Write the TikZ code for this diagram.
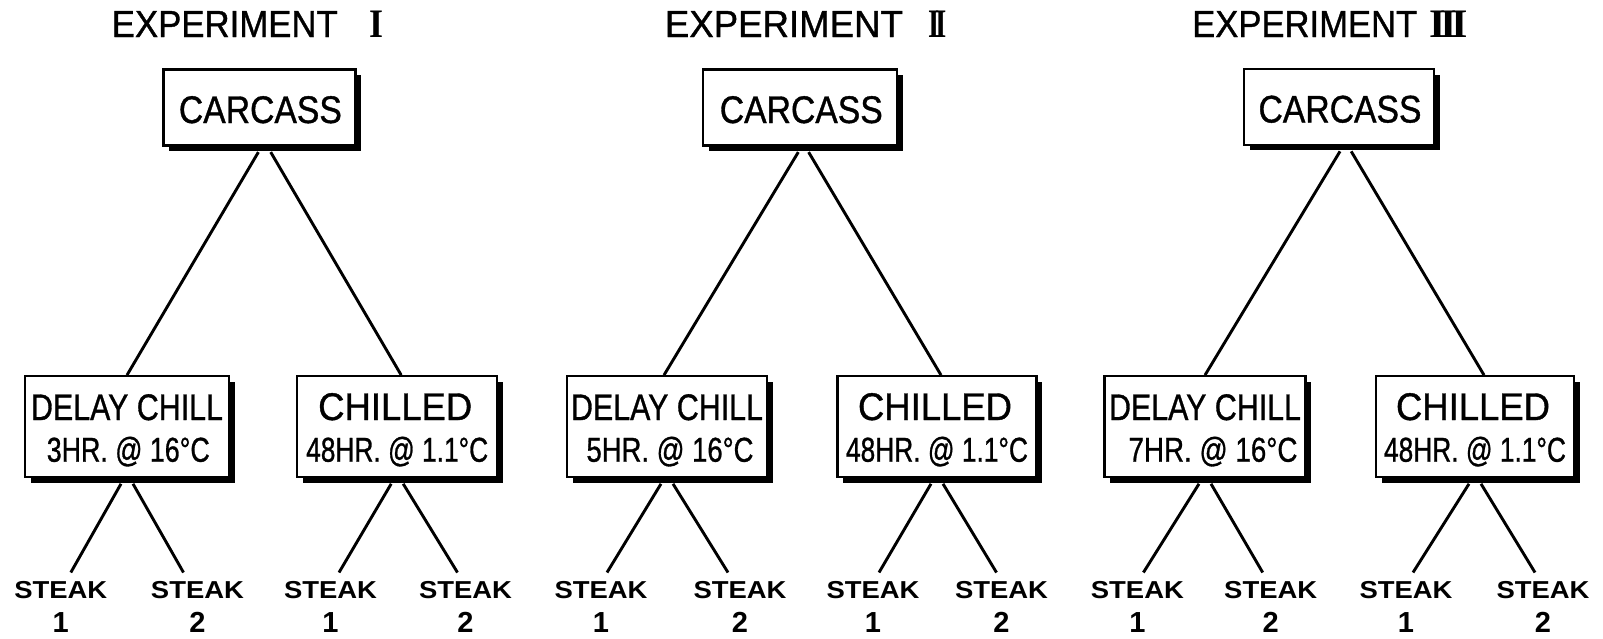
\documentclass[tikz,border=0pt]{standalone}
\usepackage{graphicx}
\usepackage{fontspec}
\setmainfont{Liberation Sans}
\newfontfamily\letterfont{Liberation Sans}[FakeBold=1]
\newfontfamily\romanfont{Liberation Serif}
\usetikzlibrary{shadows}

% set a text to a given width, keeping its height
\newcommand\fitw[2]{\resizebox{#1}{\height}{#2}}
% a roman numeral whose serifs run together
\newcommand\numeral[3]{\resizebox{#1}{#2}{\romanfont\bfseries #3}}

\tikzset{
  box/.style={draw, line width=2.2pt, fill=white, inner sep=0pt,
    drop shadow={shadow xshift=5.5pt, shadow yshift=-5.5pt, fill=black, opacity=1}},
  txt/.style={inner sep=0pt, anchor=base},
  head/.style={txt, font={\letterfont\fontsize{37.7}{40}\selectfont}},
  big/.style={txt, font={\letterfont\fontsize{38.5}{40}\selectfont}},
  mid/.style={txt, font={\letterfont\fontsize{37}{40}\selectfont}},
  cond/.style={txt, font={\letterfont\fontsize{34.5}{38}\selectfont}},
  steak/.style={txt, font={\bfseries\fontsize{24.5}{30}\selectfont}},
  num/.style={txt, font={\bfseries\fontsize{29}{30}\selectfont}},
  link/.style={line width=2.9pt},
}

\begin{document}
\begin{tikzpicture}[x=1pt, y=-1pt]
\useasboundingbox (0,0) rectangle (1603,638);

% ---------- titles ----------
\node[head] (t1)  at (224.8,37)  {\fitw{226pt}{EXPERIMENT}};
\node[txt]  (t1n) at (376.3,37)  {\numeral{14pt}{26.5pt}{I}};
\node[head] (t2)  at (783.9,37)  {\fitw{238pt}{EXPERIMENT}};
\node[txt]  (t2n) at (937.5,37)  {\numeral{19pt}{26.5pt}{I\kern-0.12em I}};
\node[head] (t3)  at (1304.7,37) {\fitw{225pt}{EXPERIMENT}};
\node[txt]  (t3n) at (1448.5,37) {\numeral{39pt}{26.5pt}{I\kern-0.12em I\kern-0.12em I}};

% ---------- carcass boxes ----------
\node[box, minimum width=192pt, minimum height=76pt] (c1) at (259.4,107.5) {};
\node[box, minimum width=194pt, minimum height=76pt] (c2) at (800.3,107.5) {};
\node[box, minimum width=190pt, minimum height=75.5pt] (c3) at (1339,107) {};
\foreach \c in {c1,c2,c3}
  \node[big] (\c t) at ([xshift=1pt,yshift=-15.5pt]\c.center) {\fitw{163pt}{CARCASS}};

% ---------- treatment boxes ----------
\node[box, minimum width=204pt, minimum height=101pt] (d1) at (127,426.7)   {};
\node[box, minimum width=200pt, minimum height=101pt] (h1) at (397.2,426.7) {};
\node[box, minimum width=200pt, minimum height=101pt] (d2) at (667,426.7)   {};
\node[box, minimum width=199pt, minimum height=101pt] (h2) at (937,426.7)   {};
\node[box, minimum width=201pt, minimum height=101pt] (d3) at (1205,426.7)  {};
\node[box, minimum width=198pt, minimum height=101pt] (h3) at (1475,426.7)  {};

\foreach \d in {d1,d2,d3}
  \node[mid] (\d a) at ([yshift=6.7pt]\d.center) {\fitw{192pt}{DELAY CHILL}};
\node[cond] (d1b) at ([xshift=1.3pt,yshift=-35pt]d1.center) {\fitw{163pt}{3HR. @ 16°C}};
\node[cond] (d2b) at ([xshift=3pt,yshift=-35pt]d2.center)   {\fitw{167pt}{5HR. @ 16°C}};
\node[cond] (d3b) at ([xshift=8pt,yshift=-35pt]d3.center)   {\fitw{169pt}{7HR. @ 16°C}};

\foreach \h in {h1,h2,h3} {
  \node[big]  (\h a) at ([xshift=-2pt,yshift=6.7pt]\h.center) {\fitw{154pt}{CHILLED}};
  \node[cond] (\h b) at ([yshift=-35pt]\h.center) {\fitw{182pt}{48HR. @ 1.1°C}};
}

% ---------- steak labels ----------
\foreach \n/\x/\k in {s1/60.8/1, s2/197.5/2, s3/330.5/1, s4/465.5/2,
                      s5/601/1, s6/740/2, s7/873/1, s8/1001.5/2,
                      s9/1137.4/1, s10/1270.7/2, s11/1406/1, s12/1543/2} {
  \node[steak] (\n) at (\x,598.3) {\fitw{93pt}{STEAK}};
  \node[num]   (\n n) at (\x,632.7) {\k};
}

% ---------- connectors: carcass to treatments ----------
\foreach \c/\cl/\cr/\d/\dx/\h/\hx in {c1/-1/11.3/d1/0/h1/4, c2/-2/8.3/d2/-3/h2/4, c3/1/12.2/d3/0/h3/9} {
  \draw[link] ([xshift=\cl pt,yshift=-5.5pt]\c.south) -- ([xshift=\dx pt]\d.north);
  \draw[link] ([xshift=\cr pt,yshift=-5.5pt]\c.south) -- ([xshift=\hx pt]\h.north);
}

% ---------- connectors: treatments to steaks ----------
\foreach \b/\l/\lx/\r/\rx in {d1/s1/10/s2/-14, h1/s3/8.5/s4/-8, d2/s5/6/s6/-12,
                             h2/s7/6/s8/-5, d3/s9/6/s10/-8, h3/s11/7/s12/-8} {
  \draw[link] ([xshift=-6pt,yshift=-5.5pt]\b.south) -- ([xshift=\lx pt,yshift=8.5pt]\l.north);
  \draw[link] ([xshift=6pt,yshift=-5.5pt]\b.south) -- ([xshift=\rx pt,yshift=8.5pt]\r.north);
}
\end{tikzpicture}
\end{document}
